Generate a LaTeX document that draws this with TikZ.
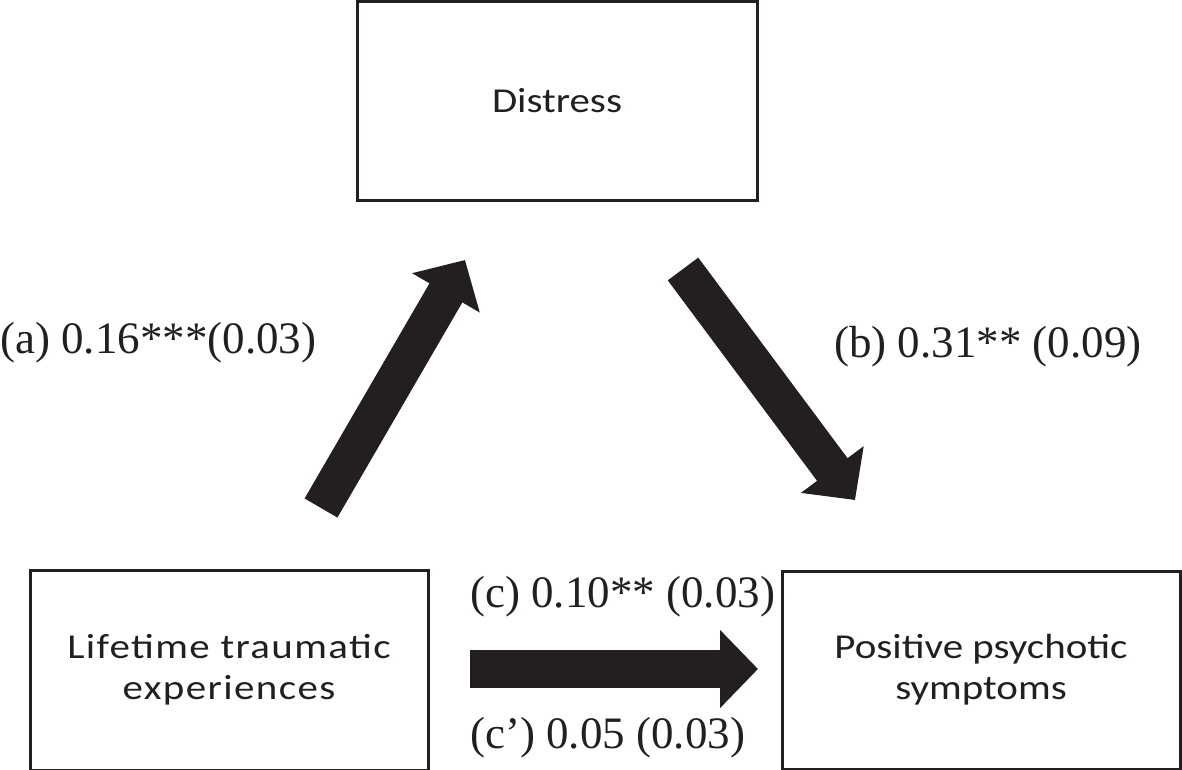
\documentclass[tikz,border=0pt]{standalone}
\usepackage{fontspec}
\setmainfont{Liberation Serif}
\newfontfamily\boxfont[FakeStretch=1.17]{Carlito}
\newfontfamily\wideboxfont[FakeStretch=1.17,LetterSpace=4]{Carlito}
\usetikzlibrary{positioning,%
  arrows.meta,%
  calc%
}
\definecolor{ink}{RGB}{35,31,32}
\tikzset{
	varbox/.style = {draw = ink, line width = 3pt, inner sep = 0pt, align = center,
		text = ink, font = \boxfont\fontsize{35}{41}\selectfont},
	pathlbl/.style = {inner sep = 0pt, anchor = base west, text = ink,
		font = \fontsize{45}{50}\selectfont},
	blockarrow/.style = {draw = ink, line width = 38pt,
		-{Triangle[length = 38pt, width = 76pt, fill = ink]}}
}

\begin{document}
\begin{tikzpicture}[x = 1pt, y = -1pt]
			\useasboundingbox (0,0) rectangle (1182,770);
			
			\node[varbox, minimum width = 400pt, minimum height = 198pt] (distress) at (557,101) {Distress};
			\node[varbox, minimum width = 398pt, minimum height = 200pt,
				font = \wideboxfont\fontsize{35}{41}\selectfont] (trauma) at (229,670) {Lifetime traumatic\\experiences};
			\node[varbox, minimum width = 398pt, minimum height = 198pt] (psych) at (981,670) {Positive psychotic\\symptoms};
			
			\coordinate (aTail) at (321,508);
			\coordinate (aTip) at (465,260);
			\coordinate (bTail) at (683,269);
			\coordinate (bTip) at (855,500);
			\coordinate (cTail) at (470,669);
			\coordinate (cTip) at (758,669);
			
			\draw[blockarrow] (aTail) -- (aTip);
			\draw[blockarrow] (bTail) -- (bTip);
			\draw[blockarrow] (cTail) -- (cTip);
			
			\node[pathlbl] (lblA) at (0,353) {(a) 0.16***(0.03)};
			\node[pathlbl] (lblB) at (834,357) {(b) 0.31** (0.09)};
			\node[pathlbl] (lblC) at (470,607) {(c) 0.10** (0.03)};
			\node[pathlbl] (lblCp) at (470,748) {(c’) 0.05 (0.03)};
		
		\end{tikzpicture}
\end{document}
